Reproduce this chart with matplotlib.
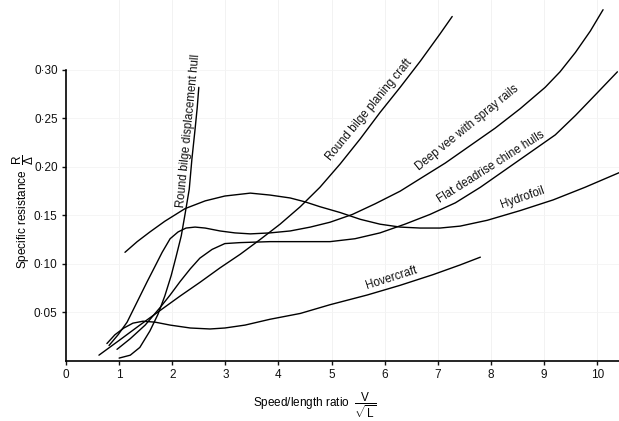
import math
import matplotlib
matplotlib.use("Agg")
import matplotlib.pyplot as plt

plt.rcParams['font.family'] = ['Liberation Sans', 'DejaVu Sans']
plt.rcParams['mathtext.fontset'] = 'custom'
plt.rcParams['mathtext.rm'] = 'Liberation Sans'
plt.rcParams['mathtext.it'] = 'Liberation Sans'

# curves: speed/length ratio vs specific resistance R/Δ
disp_x = [1.00, 1.21, 1.39, 1.58, 1.73, 1.86, 1.98, 2.07, 2.17, 2.24, 2.32, 2.37, 2.43, 2.47, 2.50]
disp_y = [0.003, 0.006, 0.014, 0.031, 0.048, 0.067, 0.088, 0.107, 0.129, 0.151, 0.177, 0.208, 0.239, 0.261, 0.282]

plan_x = [0.62, 1.02, 1.39, 1.77, 2.15, 2.52, 2.90, 3.28, 3.65, 4.03, 4.41, 4.78, 5.16, 5.54, 5.91, 6.29, 6.67, 7.04, 7.27]
plan_y = [0.006, 0.022, 0.037, 0.052, 0.067, 0.081, 0.096, 0.110, 0.125, 0.141, 0.159, 0.179, 0.203, 0.229, 0.256, 0.282, 0.309, 0.337, 0.355]

vee_x = [0.81, 0.98, 1.15, 1.34, 1.53, 1.68, 1.81, 1.96, 2.11, 2.26, 2.43, 2.62, 2.90, 3.18, 3.47, 3.84,
         4.22, 4.60, 4.97, 5.39, 5.82, 6.29, 6.67, 7.14, 7.61, 8.08, 8.55, 9.02, 9.30, 9.59, 9.87, 10.11]
vee_y = [0.016, 0.027, 0.040, 0.061, 0.082, 0.098, 0.112, 0.126, 0.133, 0.137, 0.138, 0.137, 0.134, 0.132, 0.131, 0.132,
         0.134, 0.138, 0.143, 0.151, 0.162, 0.175, 0.188, 0.204, 0.222, 0.240, 0.260, 0.282, 0.298, 0.318, 0.340, 0.362]

flat_x = [0.96, 1.21, 1.49, 1.77, 1.96, 2.15, 2.34, 2.52, 2.75, 2.99, 3.28, 3.84, 4.41, 4.97, 5.44, 5.91,
          6.38, 6.85, 7.33, 7.80, 8.27, 8.74, 9.21, 9.59, 9.96, 10.38]
flat_y = [0.012, 0.023, 0.037, 0.055, 0.068, 0.082, 0.095, 0.106, 0.115, 0.121, 0.122, 0.123, 0.123, 0.123, 0.126, 0.132,
          0.141, 0.151, 0.163, 0.179, 0.197, 0.215, 0.233, 0.253, 0.274, 0.298]

hyd_x = [1.11, 1.34, 1.58, 1.86, 2.24, 2.62, 2.99, 3.47, 3.84, 4.22, 4.50, 4.78, 5.16, 5.54, 5.91, 6.29,
         6.67, 7.04, 7.42, 7.93, 8.55, 9.17, 9.77, 10.41]
hyd_y = [0.112, 0.123, 0.133, 0.144, 0.157, 0.165, 0.170, 0.173, 0.171, 0.168, 0.164, 0.159, 0.153, 0.146, 0.141, 0.138,
         0.137, 0.137, 0.139, 0.145, 0.155, 0.166, 0.179, 0.194]

hov_x = [0.77, 0.92, 1.09, 1.26, 1.45, 1.68, 1.96, 2.34, 2.71, 2.99, 3.37, 3.84, 4.41, 4.97, 5.67, 6.29, 6.91, 7.42, 7.80]
hov_y = [0.018, 0.027, 0.034, 0.039, 0.041, 0.040, 0.037, 0.034, 0.033, 0.034, 0.037, 0.043, 0.049, 0.058, 0.068, 0.078,
         0.089, 0.099, 0.107]

x_ticks = [0, 1, 2, 3, 4, 5, 6, 7, 8, 9, 10]
y_ticks = [0.05, 0.10, 0.15, 0.20, 0.25, 0.30]
y_tick_labels = ['0·05', '0·10', '0·15', '0·20', '0·25', '0·30']

# label text, anchor, angle on the page, push off the curve (px)
labels = [
    ('Round bilge displacement hull', 2.307, 0.237, 84.3, 0.0),
    ('Round bilge planing craft', 5.78, 0.255, 50.4, 5.5),
    ('Deep vee with spray rails', 7.61, 0.236, 39.0, 5.5),
    ('Flat deadrise chine hulls', 8.06, 0.195, 32.4, 5.5),
    ('Hydrofoil', 8.63, 0.163, 19.5, 5.5),
    ('Hovercraft', 6.16, 0.080, 17.8, 5.5),
]

fig = plt.figure(figsize=(6.19, 4.21), dpi=100)
ax = fig.add_axes([66 / 619, 60 / 421, 553 / 619, 361 / 421])

for xs, ys in [(disp_x, disp_y), (plan_x, plan_y), (vee_x, vee_y),
               (flat_x, flat_y), (hyd_x, hyd_y), (hov_x, hov_y)]:
    ax.plot(xs, ys, color='black', linewidth=1.0, solid_capstyle='round', solid_joinstyle='round')

# labels sit on the upper-left side of their curves
for text, lx, ly, rot, d in labels:
    off = (-d * math.sin(math.radians(rot)), d * math.cos(math.radians(rot)))
    ax.annotate(text, (lx, ly), xytext=off, textcoords='offset pixels',
                rotation=rot, rotation_mode='anchor',
                ha='center', va='center', fontsize=8.3, color='#111111')

ax.set_xlim(0, 10.41)
ax.set_ylim(0, 0.372)
ax.set_xticks(x_ticks)
ax.set_xticklabels([str(t) for t in x_ticks])
ax.set_yticks(y_ticks)
ax.set_yticklabels(y_tick_labels)
ax.tick_params(axis='both', labelsize=8.5, length=3, width=1, pad=3, colors='#111111')

for v in x_ticks[1:]:
    ax.axvline(v, color='#f0f0f0', linewidth=0.6, zorder=0)
for v in y_ticks:
    ax.axhline(v, color='#f4f4f4', linewidth=0.6, zorder=0)

ax.spines['top'].set_visible(False)
ax.spines['right'].set_visible(False)
ax.spines['left'].set_bounds(0, 0.30)
ax.spines['left'].set_linewidth(1.2)
ax.spines['bottom'].set_linewidth(1.2)

fig.text(315 / 619, 1 - 405 / 421, r'Speed/length ratio  $\dfrac{V}{\sqrt{L}}$',
         ha='center', va='center', fontsize=8.5)
fig.text(23 / 619, 1 - 212 / 421, r'Specific resistance  $\dfrac{R}{\Delta}$',
         ha='center', va='center', rotation=90, fontsize=8.5)

fig.savefig('out.png', dpi=100, facecolor='white')
